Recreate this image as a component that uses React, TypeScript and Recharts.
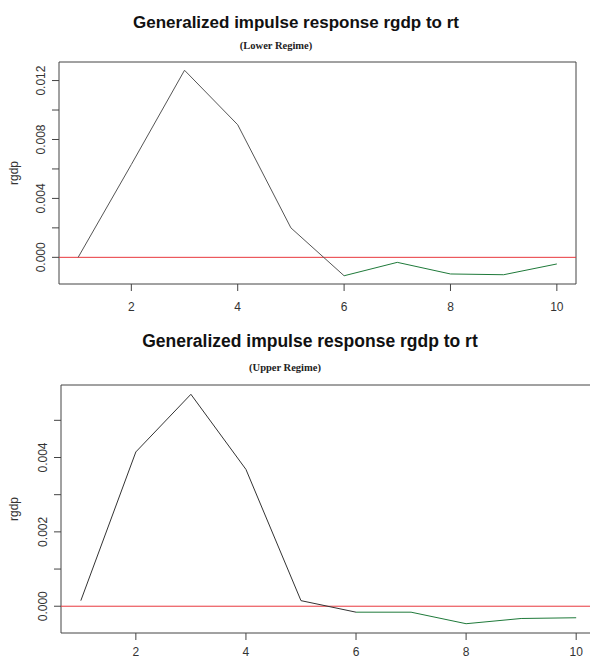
import React from "react";
import { LineChart, Line, XAxis, YAxis, ReferenceLine, ReferenceArea } from "recharts";

// horizons 1..10
const horizons = [1, 2, 3, 4, 5, 6, 7, 8, 9, 10];

// generalized impulse response of rgdp to rt
const lowerResponse = [0.0, 0.0063, 0.0127, 0.009, 0.002, -0.00125, -0.00034, -0.00113, -0.00118, -0.00045];
const upperResponse = [0.00015, 0.00415, 0.0057, 0.00368, 0.00015, -0.00016, -0.00016, -0.00047, -0.00033, -0.00031];

const xTicks = [2, 4, 6, 8, 10];
const lowerYTicks = [0, 0.002, 0.004, 0.006, 0.008, 0.01, 0.012];
const lowerYLabels = [0, 0.004, 0.008, 0.012];
const upperYTicks = [0, 0.001, 0.002, 0.003, 0.004, 0.005];
const upperYLabels = [0, 0.002, 0.004];

const xDomain: [number, number] = [0.64, 10.36];
const lowerYDomain: [number, number] = [-0.00181, 0.01326];
const upperYDomain: [number, number] = [-0.00072, 0.00595];

// split the path: black up to horizon 6, green from 6 on
const buildRows = (values: number[]) =>
    horizons.map((h, i) => ({
        h,
        black: h <= 6 ? values[i] : null,
        green: h >= 6 ? values[i] : null,
    }));

const FONT = "'Liberation Sans', Arial, sans-serif";

const YTick = (props: any) => {
    const { x, y, payload, shown } = props;
    const show = shown.some((v: number) => Math.abs(v - payload.value) < 1e-9);
    if (!show) return <g />;
    const tx = x - 5;
    return (
        <text
            x={tx}
            y={y}
            transform={`rotate(-90 ${tx} ${y})`}
            textAnchor="middle"
            fontSize={12}
            fontFamily={FONT}
            fill="#333"
        >
            {payload.value.toFixed(3)}
        </text>
    );
};

const Title = ({ text, cx, cy, size }: { text: string; cx: number; cy: number; size: number }) => (
    <div
        style={{
            position: "absolute",
            left: cx,
            top: cy,
            transform: "translate(-50%, -50%)",
            whiteSpace: "nowrap",
            fontFamily: FONT,
            fontWeight: "bold",
            fontSize: size,
            lineHeight: 1,
            color: "#111",
        }}
    >
        {text}
    </div>
);

const Subtitle = ({ text, cx, cy }: { text: string; cx: number; cy: number }) => (
    <div
        style={{
            position: "absolute",
            left: cx,
            top: cy,
            transform: "translate(-50%, -50%)",
            whiteSpace: "nowrap",
            fontFamily: "'Liberation Serif', 'Times New Roman', serif",
            fontWeight: "bold",
            fontSize: 10.5,
            lineHeight: 1,
            color: "#222",
        }}
    >
        {text}
    </div>
);

interface PanelProps {
    rows: { h: number; black: number | null; green: number | null }[];
    width: number;
    height: number;
    margin: { top: number; right: number; left: number; bottom: number };
    yWidth: number;
    xHeight: number;
    xTickMargin: number;
    yDomain: [number, number];
    yTicks: number[];
    yLabels: number[];
    blackColor: string;
}

const Panel = ({ rows, width, height, margin, yWidth, xHeight, xTickMargin, yDomain, yTicks, yLabels, blackColor }: PanelProps) => (
    <LineChart width={width} height={height} data={rows} margin={margin}>
        <XAxis
            dataKey="h"
            type="number"
            domain={xDomain}
            allowDataOverflow
            ticks={xTicks}
            axisLine={false}
            tickSize={7}
            tickMargin={xTickMargin}
            tickLine={{ stroke: "#444" }}
            tick={{ fontSize: 12, fill: "#333", fontFamily: FONT }}
            height={xHeight}
        />
        <YAxis
            type="number"
            domain={yDomain}
            allowDataOverflow
            ticks={yTicks}
            axisLine={false}
            tickSize={7}
            tickLine={{ stroke: "#444" }}
            width={yWidth}
            tick={(p: any) => <YTick {...p} shown={yLabels} />}
            label={{
                value: "rgdp",
                angle: -90,
                position: "insideLeft",
                offset: 14,
                style: { textAnchor: "middle", fontSize: 12, fill: "#333", fontFamily: FONT },
            }}
        />
        <ReferenceArea
            x1={xDomain[0]}
            x2={xDomain[1]}
            y1={yDomain[0]}
            y2={yDomain[1]}
            fill="none"
            fillOpacity={0}
            stroke="#444"
            strokeWidth={1}
        />
        <ReferenceLine y={0} stroke="#e8383d" strokeWidth={1} />
        <Line
            type="linear"
            dataKey="black"
            stroke={blackColor}
            strokeWidth={1}
            dot={false}
            connectNulls={false}
            isAnimationActive={false}
        />
        <Line
            type="linear"
            dataKey="green"
            stroke="#1f7a3a"
            strokeWidth={1}
            dot={false}
            connectNulls={false}
            isAnimationActive={false}
        />
    </LineChart>
);

export default function App() {
    const lowerRows = buildRows(lowerResponse);
    const upperRows = buildRows(upperResponse);

    return (
        <div style={{ position: "absolute", left: 0, top: 0, width: 590, height: 660, background: "#fff", overflow: "hidden" }}>
            <div style={{ position: "absolute", left: 0, top: 0, width: 590, height: 320 }}>
                <Panel
                    rows={lowerRows}
                    width={590}
                    height={320}
                    margin={{ top: 62, right: 14, left: 0, bottom: 0 }}
                    yWidth={59}
                    xHeight={36}
                    xTickMargin={11}
                    yDomain={lowerYDomain}
                    yTicks={lowerYTicks}
                    yLabels={lowerYLabels}
                    blackColor="#555"
                />
            </div>
            <div style={{ position: "absolute", left: 0, top: 320, width: 590, height: 340, overflow: "hidden" }}>
                <Panel
                    rows={upperRows}
                    width={600}
                    height={340}
                    margin={{ top: 65, right: 4, left: 0, bottom: 0 }}
                    yWidth={61}
                    xHeight={27}
                    xTickMargin={7}
                    yDomain={upperYDomain}
                    yTicks={upperYTicks}
                    yLabels={upperYLabels}
                    blackColor="#333"
                />
            </div>
            <Title text="Generalized impulse response rgdp to rt" cx={296} cy={22} size={17} />
            <Subtitle text="(Lower Regime)" cx={276} cy={46} />
            <Title text="Generalized impulse response rgdp to rt" cx={310} cy={342} size={17.5} />
            <Subtitle text="(Upper Regime)" cx={285} cy={368} />
        </div>
    );
}
